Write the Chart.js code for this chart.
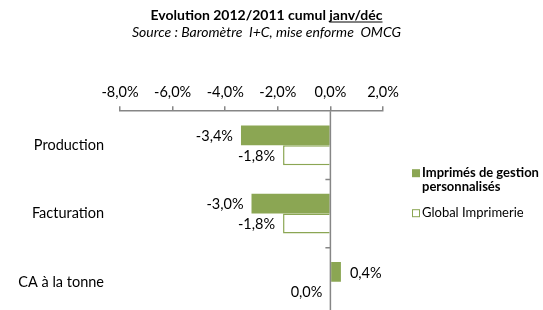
<!DOCTYPE html>
<html>
<head>
<meta charset="utf-8">
<script src="https://cdn.jsdelivr.net/npm/chart.js@4/dist/chart.umd.min.js"></script>
<style>
    html, body { margin: 0; padding: 0; background: #fff; overflow: hidden; }
    canvas { display: block; }
</style>
</head>
<body>
<canvas id="myChart" width="543" height="316"></canvas>
<script>
"use strict";

const categories = ['Production', 'Facturation', 'CA à la tonne'];
const seriesNames = ['Imprimés de gestion personnalisés', 'Global Imprimerie'];
const gestionValues = [-3.4, -3.0, 0.4];
const globalValues = [-1.8, -1.8, 0.0];
const xTicks = [-8, -6, -4, -2, 0, 2];

const green = '#8ba653';
const axisGrey = '#868686';
const textColor = '#000';
const fontFamily = 'Lato, "Open Sans", sans-serif';

const pct = v => v.toFixed(1).replace('.', ',') + '%';

// value labels at the end of each bar
const barLabels = {
    id: 'barLabels',
    afterDatasetsDraw(chart) {
        const ctx = chart.ctx;
        ctx.save();
        ctx.font = '14.5px ' + fontFamily;
        ctx.fillStyle = textColor;
        ctx.textBaseline = 'middle';
        chart.data.datasets.forEach((ds, i) => {
            chart.getDatasetMeta(i).data.forEach((bar, j) => {
                const v = ds.data[j];
                if (v > 0) {
                    ctx.textAlign = 'left';
                    ctx.fillText(pct(v), bar.x + 9, bar.y + 1);
                } else {
                    ctx.textAlign = 'right';
                    ctx.fillText(pct(v), bar.x - 8, bar.y + 1);
                }
            });
        });
        ctx.restore();
    }
};

// vertical axis line drawn at 0 with small ticks between categories
const zeroAxis = {
    id: 'zeroAxis',
    afterDatasetsDraw(chart) {
        const {ctx, chartArea, scales} = chart;
        const x0 = scales.x.getPixelForValue(0);
        ctx.save();
        ctx.strokeStyle = axisGrey;
        ctx.lineWidth = 1.5;
        ctx.beginPath();
        ctx.moveTo(x0, chartArea.top);
        ctx.lineTo(x0, chartArea.bottom);
        for (let i = 1; i < categories.length; i++) {
            const y = (scales.y.getPixelForValue(i - 1) + scales.y.getPixelForValue(i)) / 2;
            ctx.moveTo(x0 - 5, y);
            ctx.lineTo(x0, y);
        }
        ctx.stroke();
        ctx.restore();
    }
};

// underline the end of the title
const titleUnderline = {
    id: 'titleUnderline',
    afterDraw(chart, args, opts) {
        const tb = chart.titleBlock;
        if (!tb) return;
        const ctx = chart.ctx;
        const font = Chart.helpers.toFont(tb.options.font);
        const pad = Chart.helpers.toPadding(tb.options.padding);
        const text = tb.options.text;
        ctx.save();
        ctx.font = font.string;
        const full = ctx.measureText(text).width;
        const start = (tb.left + tb.right) / 2 - full / 2;
        const from = start + ctx.measureText(text.slice(0, text.length - opts.part.length)).width;
        const y = tb.top + pad.top + font.lineHeight / 2 + font.size * 0.5;
        ctx.strokeStyle = textColor;
        ctx.lineWidth = 1;
        ctx.beginPath();
        ctx.moveTo(from, y);
        ctx.lineTo(start + full, y);
        ctx.stroke();
        ctx.restore();
    }
};

function wrapText(ctx, text, maxWidth) {
    const words = text.split(' ');
    const lines = [];
    let line = '';
    words.forEach(w => {
        const test = line ? line + ' ' + w : w;
        if (line && ctx.measureText(test).width > maxWidth) {
            lines.push(line);
            line = w;
        } else {
            line = test;
        }
    });
    lines.push(line);
    return lines;
}

// legend on the right, first entry bold
const sideLegend = {
    id: 'sideLegend',
    afterDraw(chart, args, opts) {
        const {ctx, chartArea} = chart;
        const left = chartArea.right + 29;
        let y = chartArea.top + 62;
        ctx.save();
        ctx.textBaseline = 'middle';
        ctx.textAlign = 'left';
        chart.data.datasets.forEach((ds, i) => {
            ctx.font = opts.weights[i] + ' 13px ' + fontFamily;
            const lines = wrapText(ctx, ds.label, 128);
            ctx.fillStyle = ds.backgroundColor;
            ctx.fillRect(left, y - 4, 8, 8);
            if (ds.borderWidth) {
                ctx.strokeStyle = ds.borderColor;
                ctx.lineWidth = 1;
                ctx.strokeRect(left + 0.5, y - 3.5, 7, 7);
            }
            ctx.fillStyle = textColor;
            lines.forEach((line, k) => ctx.fillText(line, left + 10, y + k * 14));
            y += lines.length * 14 + 12;
        });
        ctx.restore();
    }
};

const ctx = document.getElementById('myChart');

new Chart(ctx, {
    type: 'bar',
    data: {
        labels: categories,
        datasets: [{
            label: seriesNames[0],
            data: gestionValues,
            backgroundColor: green,
            borderWidth: 0
        }, {
            label: seriesNames[1],
            data: globalValues,
            backgroundColor: '#ffffff',
            borderColor: green,
            borderWidth: 1.5
        }]
    },
    options: {
        indexAxis: 'y',
        responsive: false,
        animation: false,
        datasets: {
            bar: { categoryPercentage: 0.58, barPercentage: 1 }
        },
        layout: { padding: { left: 0, right: 10, top: 0, bottom: 0 } },
        scales: {
            x: {
                position: 'top',
                min: -8,
                max: 2,
                afterBuildTicks: s => { s.ticks = xTicks.map(v => ({ value: v })); },
                afterFit: s => { s.height = 70; s.paddingLeft = 0; s.paddingRight = 0; },
                ticks: {
                    callback: v => pct(v),
                    color: textColor,
                    font: { family: fontFamily, size: 14.5 },
                    padding: 5,
                    maxRotation: 0
                },
                grid: {
                    drawOnChartArea: false,
                    tickLength: 5,
                    color: axisGrey,
                    lineWidth: 1.5
                },
                border: { color: axisGrey, width: 1.5 }
            },
            y: {
                // fixed width, and no extra room above/below the first/last label
                afterFit: s => { s.width = 120; s.paddingTop = 0; s.paddingBottom = 0; },
                ticks: {
                    color: textColor,
                    font: { family: fontFamily, size: 14.5 },
                    padding: 8
                },
                grid: { display: false },
                border: { display: false }
            },
            legendSpace: {
                type: 'linear',
                position: 'right',
                afterFit: s => { s.width = 150; s.paddingTop = 0; s.paddingBottom = 0; },
                ticks: { display: false },
                grid: { display: false },
                border: { display: false }
            }
        },
        plugins: {
            legend: { display: false },
            tooltip: { enabled: false },
            title: {
                display: true,
                text: 'Evolution 2012/2011 cumul janv/déc',
                color: textColor,
                font: { family: fontFamily, size: 14, weight: 'bold' },
                padding: { top: 6.6, bottom: 1 }
            },
            subtitle: {
                display: true,
                text: 'Source : Baromètre  I+C, mise enforme  OMCG',
                color: textColor,
                font: { family: fontFamily, size: 14, style: 'italic' },
                padding: { top: 0, bottom: 0 }
            },
            titleUnderline: { part: 'janv/déc' },
            sideLegend: { weights: ['bold', 'normal'] }
        }
    },
    plugins: [barLabels, zeroAxis, titleUnderline, sideLegend]
});
</script>
</body>
</html>
